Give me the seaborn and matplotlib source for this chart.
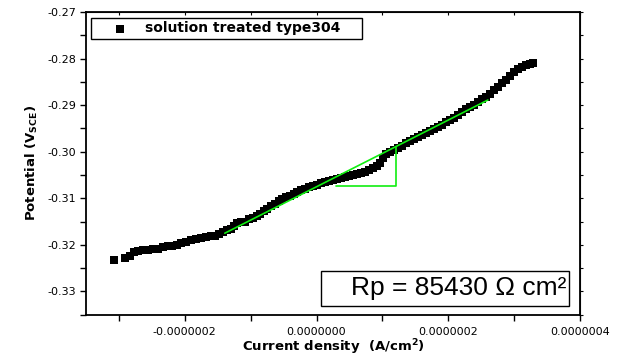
import numpy as np
import pandas as pd
import matplotlib
matplotlib.use("Agg")
import matplotlib.pyplot as plt
import matplotlib.ticker as mticker
from matplotlib.patches import Rectangle
import seaborn as sns

# ---- data (current density in units of 1e-7 A/cm^2, potential in V) ----
current_e7 = [
    -3.078, -2.911, -2.835, -2.775, -2.714, -2.638, -2.562, -2.486, -2.410, -2.334,
    -2.258, -2.197, -2.121, -2.061, -1.985, -1.909, -1.833, -1.757, -1.681, -1.605,
    -1.544, -1.484, -1.423, -1.362, -1.301, -1.256, -1.210, -1.150, -1.089, -1.028,
    -0.967, -0.907, -0.861, -0.800, -0.755, -0.694, -0.633, -0.573, -0.527, -0.466,
    -0.405, -0.345, -0.299, -0.238, -0.178, -0.117, -0.056, 0.005, 0.065, 0.126,
    0.187, 0.248, 0.308, 0.369, 0.430, 0.491, 0.551, 0.612, 0.673, 0.733,
    0.794, 0.855, 0.916, 0.961, 1.007, 1.052, 1.113, 1.174, 1.235, 1.295,
    1.356, 1.417, 1.478, 1.538, 1.599, 1.660, 1.721, 1.781, 1.842, 1.903,
    1.964, 2.024, 2.085, 2.146, 2.207, 2.267, 2.328, 2.389, 2.450, 2.510,
    2.571, 2.632, 2.692, 2.753, 2.814, 2.875, 2.935, 2.996, 3.057, 3.118,
    3.178, 3.239, 3.285,
]
potential = [
    -0.3233, -0.3229, -0.3223, -0.3216, -0.3214, -0.3212, -0.3210, -0.3208, -0.3208, -0.3205,
    -0.3203, -0.3203, -0.3201, -0.3197, -0.3193, -0.3190, -0.3188, -0.3186, -0.3184, -0.3182,
    -0.3180, -0.3177, -0.3173, -0.3169, -0.3165, -0.3160, -0.3154, -0.3152, -0.3150, -0.3145,
    -0.3143, -0.3139, -0.3134, -0.3128, -0.3124, -0.3117, -0.3113, -0.3106, -0.3102, -0.3098,
    -0.3096, -0.3091, -0.3087, -0.3083, -0.3081, -0.3076, -0.3074, -0.3072, -0.3068, -0.3066,
    -0.3063, -0.3061, -0.3059, -0.3057, -0.3055, -0.3053, -0.3051, -0.3048, -0.3046, -0.3044,
    -0.3040, -0.3036, -0.3031, -0.3025, -0.3014, -0.3005, -0.3001, -0.2997, -0.2992, -0.2988,
    -0.2982, -0.2977, -0.2973, -0.2969, -0.2965, -0.2960, -0.2956, -0.2952, -0.2947, -0.2943,
    -0.2937, -0.2932, -0.2928, -0.2922, -0.2915, -0.2909, -0.2904, -0.2900, -0.2894, -0.2887,
    -0.2883, -0.2876, -0.2868, -0.2861, -0.2853, -0.2846, -0.2838, -0.2829, -0.2823, -0.2818,
    -0.2814, -0.2812, -0.2810,
]

# linear fit segment and slope triangle
fit_current_e7 = [-1.393, 2.601]
fit_potential = [-0.3175, -0.2889]
tri_current_e7 = [0.293, 1.204, 1.204]
tri_potential = [-0.3074, -0.3074, -0.2989]

series_label = "solution treated type304"
rp_text = "Rp = 85430 \u03a9 cm\u00b2"
x_ticks_major = [-2e-7, 0.0, 2e-7, 4e-7]
y_ticks_major = [-0.33, -0.32, -0.31, -0.30, -0.29, -0.28, -0.27]

df = pd.DataFrame({"current": np.array(current_e7) * 1e-7, "potential": potential})
fit_df = pd.DataFrame({"current": np.array(fit_current_e7) * 1e-7, "potential": fit_potential})
tri_df = pd.DataFrame({"current": np.array(tri_current_e7) * 1e-7, "potential": tri_potential})

sns.set_style("ticks")
plt.rcParams["font.family"] = ["DejaVu Sans"]
plt.rcParams["text.color"] = "black"
plt.rcParams["axes.labelcolor"] = "black"
plt.rcParams["xtick.color"] = "black"
plt.rcParams["ytick.color"] = "black"

fig = plt.figure(figsize=(6.23, 3.57), dpi=100)
ax = fig.add_axes([86 / 623, 1 - 314.7 / 357, 494 / 623, 302.7 / 357])

sns.scatterplot(data=df, x="current", y="potential", marker="s", s=30,
                color="black", linewidth=0, ax=ax, label=series_label, zorder=2)
sns.lineplot(data=fit_df, x="current", y="potential", sort=False, estimator=None,
             color="#11ee11", linewidth=1.2, ax=ax, zorder=3, legend=False)
sns.lineplot(data=tri_df, x="current", y="potential", sort=False, estimator=None,
             color="#11ee11", linewidth=1.2, ax=ax, zorder=3, legend=False)

ax.set_xlim(-3.5e-7, 4e-7)
ax.set_ylim(-0.335, -0.27)
ax.set_xticks(x_ticks_major)
ax.xaxis.set_minor_locator(mticker.MultipleLocator(1e-7))
ax.set_yticks(y_ticks_major)
ax.yaxis.set_minor_locator(mticker.MultipleLocator(0.005))


def xfmt(v, pos):
    if abs(v) < 1e-12:
        v = 0.0
    return f"{v:.7f}"


ax.xaxis.set_major_formatter(mticker.FuncFormatter(xfmt))
ax.yaxis.set_major_formatter(mticker.FormatStrFormatter("%.2f"))

for side in ["top", "right", "left", "bottom"]:
    ax.spines[side].set_visible(True)
    ax.spines[side].set_linewidth(1.3)
    ax.spines[side].set_color("black")

ax.tick_params(axis="both", which="both", direction="out", length=4, width=1,
               color="black", labelsize=8, labelcolor="black",
               top=False, right=False)
ax.tick_params(axis="x", which="both", pad=5)
ax.tick_params(axis="y", which="both", pad=3)

# short ticks on top and right sides
top = ax.secondary_xaxis("top")
top.set_xticks(x_ticks_major)
top.xaxis.set_minor_locator(mticker.MultipleLocator(1e-7))
top.tick_params(which="both", direction="in", length=2, width=0.8, labeltop=False, color="black")
right = ax.secondary_yaxis("right")
right.set_yticks(y_ticks_major)
right.yaxis.set_minor_locator(mticker.MultipleLocator(0.005))
right.tick_params(which="both", direction="out", length=2, width=0.8, labelright=False, color="black")

ax.set_xlabel("Current density  (A/cm$^\\mathbf{2}$)", fontsize=9.5, fontweight="bold",
              labelpad=0, color="black")
ax.set_ylabel("Potential (V$_{\\mathbf{SCE}}$)", fontsize=9.5, fontweight="bold",
              labelpad=5, color="black")

leg = ax.legend(loc="upper left", bbox_to_anchor=(0.0101, 0.9211, 0.5486, 0.059),
                mode="expand", borderaxespad=0, frameon=True, fancybox=False,
                edgecolor="black", framealpha=1, handlelength=3.65, handletextpad=0.0,
                borderpad=0.25, prop={"weight": "bold", "size": 10})
leg.get_frame().set_linewidth(1.0)
for t in leg.get_texts():
    t.set_color("black")

ax.add_patch(Rectangle((0.475, 0.0297), 0.503, 0.1147, transform=ax.transAxes,
                       fill=True, facecolor="white", edgecolor="black", linewidth=1.0, zorder=4))
ax.text(0.9717, 0.088, rp_text, transform=ax.transAxes, ha="right", va="center",
        fontsize=19, color="black", family=["Liberation Sans", "DejaVu Sans"], zorder=5)

fig.savefig("out.png", dpi=100)
